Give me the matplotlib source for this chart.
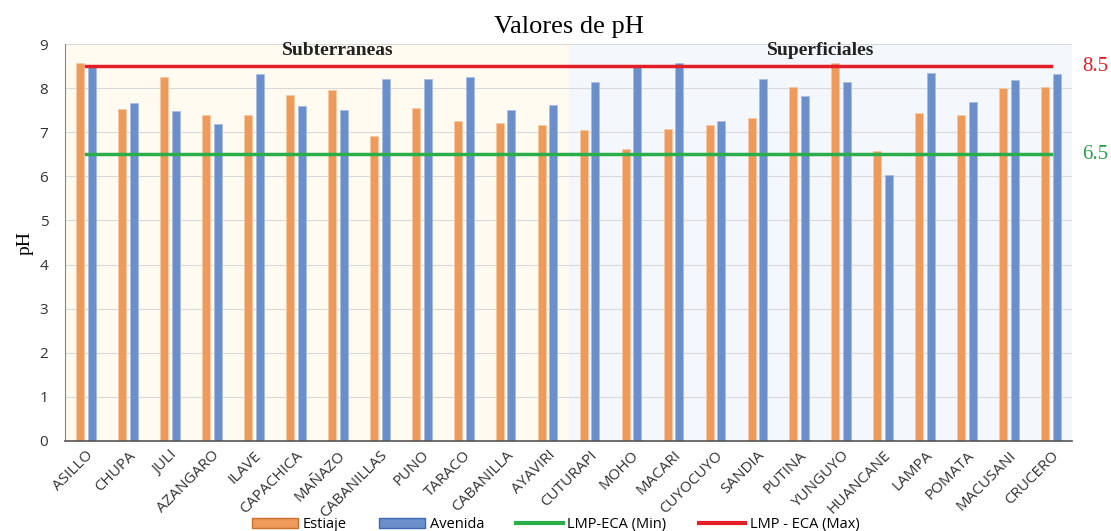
import matplotlib.pyplot as plt
from matplotlib.patches import Patch
from matplotlib.lines import Line2D
import numpy as np

estaciones = ['ASILLO', 'CHUPA', 'JULI', 'AZANGARO', 'ILAVE', 'CAPACHICA', 'MAÑAZO',
              'CABANILLAS', 'PUNO', 'TARACO', 'CABANILLA', 'AYAVIRI', 'CUTURAPI', 'MOHO',
              'MACARI', 'CUYOCUYO', 'SANDIA', 'PUTINA', 'YUNGUYO', 'HUANCANE', 'LAMPA',
              'POMATA', 'MACUSANI', 'CRUCERO']
estiaje = [8.58, 7.53, 8.26, 7.39, 7.39, 7.84, 7.96, 6.91, 7.55, 7.25, 7.21, 7.16,
           7.05, 6.62, 7.07, 7.16, 7.32, 8.03, 8.58, 6.57, 7.44, 7.39, 8.01, 8.03]
avenida = [8.49, 7.66, 7.48, 7.19, 8.33, 7.59, 7.50, 8.21, 8.21, 8.26, 7.50, 7.62,
           8.15, 8.49, 8.58, 7.26, 8.21, 7.83, 8.15, 6.04, 8.35, 7.69, 8.19, 8.33]
lmp_min = 6.5
lmp_max = 8.5
n_subterraneas = 12

c_est = '#EE9A5A'
c_ave = '#6A8FCB'
c_min = '#2AA04A'
c_max = '#E01E26'

fig = plt.figure(figsize=(11.11, 5.31), dpi=100)
ax = fig.add_axes([0.0585, 0.1695, 0.9065, 0.7475])

x = np.arange(len(estaciones))
n = len(estaciones)

# fondos de cada grupo
ax.axvspan(-0.5, n_subterraneas - 0.5, color='#FFFBF0', zorder=0)
ax.axvspan(n_subterraneas - 0.5, n - 0.5, color='#F4F7FB', zorder=0)

ax.bar(x - 0.14, estiaje, width=0.19, color=c_est, edgecolor='#F5C9A3', linewidth=0.6, zorder=2)
ax.bar(x + 0.14, avenida, width=0.19, color=c_ave, edgecolor='#A8BEE3', linewidth=0.6, zorder=2)

ax.plot([x[0], x[-1]], [lmp_min, lmp_min], color='#2AAE4A', lw=2.5, zorder=3)
ax.plot([x[0], x[-1]], [lmp_max, lmp_max], color='#E41E26', lw=2.5, zorder=3)

ax.set_xlim(-0.5, n - 0.5)
ax.set_ylim(0, 9)
ax.set_yticks(range(10))
ax.yaxis.grid(True, color='#D9D9D9', lw=0.8, zorder=1)
ax.set_axisbelow(True)
ax.tick_params(length=0, labelsize=11, colors='#333333')
ax.tick_params(axis='y', pad=12)
ax.tick_params(axis='x', pad=5)
ax.set_xticks(x)
ax.set_xticklabels(estaciones, rotation=45, ha='right', rotation_mode='anchor',
                   fontsize=11, family='Open Sans')
for lab in ax.get_yticklabels():
    lab.set_family('Open Sans')
for s in ['top', 'right']:
    ax.spines[s].set_visible(False)
ax.spines['left'].set_color('#888888')
ax.spines['bottom'].set_color('#555555')
ax.spines['bottom'].set_linewidth(1.2)

ax.set_ylabel('pH', family='Liberation Serif', fontsize=14, labelpad=4)
ax.set_title('Valores de pH', family='Liberation Serif', fontsize=19, pad=8)

ax.text(6.0, 8.86, 'Subterraneas', family='Liberation Serif', fontsize=14,
        fontweight='bold', ha='center', va='center', color='#222222')
ax.text(17.5, 8.86, 'Superficiales', family='Liberation Serif', fontsize=14,
        fontweight='bold', ha='center', va='center', color='#222222')

ax.text(n - 0.5 + 0.25, lmp_max, '8.5', color=c_max, family='Liberation Serif',
        fontsize=15, va='center', ha='left')
ax.text(n - 0.5 + 0.25, lmp_min, '6.5', color=c_min, family='Liberation Serif',
        fontsize=15, va='center', ha='left')

handles = [Patch(facecolor=c_est, edgecolor='#C8702E', label='Estiaje'),
           Patch(facecolor=c_ave, edgecolor='#3E68B0', label='Avenida'),
           Line2D([0], [0], color='#2AAE4A', lw=3, label='LMP-ECA (Min)'),
           Line2D([0], [0], color='#E41E26', lw=3, label='LMP - ECA (Max)')]
fig.legend(handles=handles, loc='center', bbox_to_anchor=(0.5, 0.012), ncol=4,
           frameon=False, handlelength=3.2, handleheight=0.7, handletextpad=0.3,
           columnspacing=2.2, prop={'family': 'Open Sans', 'size': 10.5})

fig.savefig('out.png', dpi=100)
